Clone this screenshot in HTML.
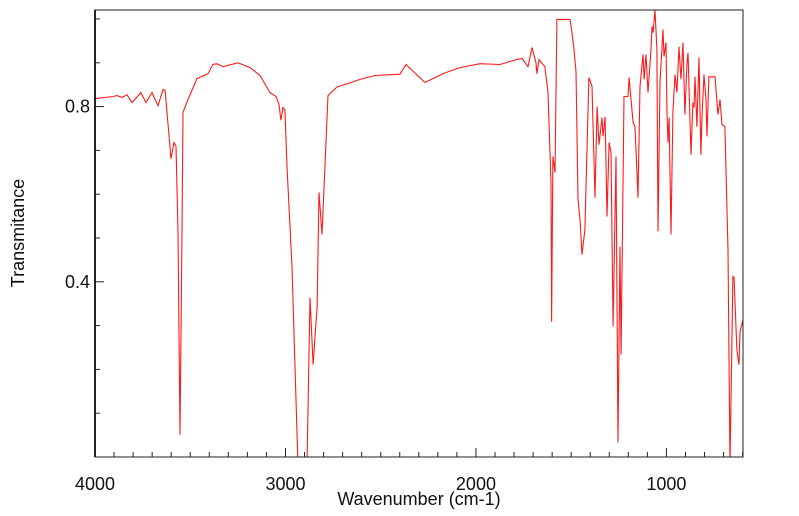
<!DOCTYPE html>
<html><head><meta charset="utf-8"><style>
body{margin:0;background:#fff;}
svg{display:block;font-family:"Liberation Sans",sans-serif;}
</style></head><body>
<svg id="chart" width="799" height="516"></svg>
<script>
const wavenumbers=[4000,3906,3885,3858,3832,3806,3759,3732,3701,3669,3643,3632,3601,3585,3575,3564,3554,3543,3538,3512,3465,3407,3381,3360,3328,3249,3186,3134,3081,3050,3034,3024,3013,3003,2992,2966,2950,2934,2887,2871,2855,2834,2824,2808,2777,2729,2661,2609,2530,2399,2367,2268,2163,2084,1979,1874,1806,1758,1727,1706,1685,1680,1669,1638,1622,1606,1603,1596,1585,1575,1506,1496,1485,1475,1464,1454,1443,1428,1407,1391,1375,1364,1354,1338,1333,1322,1312,1301,1291,1280,1265,1254,1244,1238,1223,1202,1196,1175,1165,1149,1139,1123,1117,1107,1097,1081,1076,1070,1060,1050,1044,1034,1018,1013,1002,997,992,986,976,966,955,945,934,924,913,903,892,887,871,861,855,850,840,829,819,813,803,792,787,777,745,729,719,708,693,677,666,651,645,630,619,614,598];
const transmittance=[0.818,0.823,0.825,0.821,0.827,0.809,0.832,0.809,0.832,0.802,0.839,0.837,0.681,0.718,0.709,0.513,0.051,0.513,0.787,0.816,0.864,0.875,0.896,0.898,0.891,0.900,0.889,0.871,0.832,0.823,0.805,0.769,0.798,0.793,0.663,0.435,0.206,-0.02,-0.02,0.364,0.211,0.343,0.604,0.508,0.825,0.845,0.854,0.862,0.871,0.874,0.896,0.855,0.877,0.889,0.898,0.896,0.905,0.910,0.891,0.935,0.900,0.875,0.907,0.891,0.832,0.626,0.309,0.686,0.649,0.999,0.999,0.969,0.930,0.880,0.588,0.542,0.462,0.519,0.866,0.846,0.592,0.800,0.713,0.775,0.732,0.777,0.549,0.718,0.695,0.298,0.686,0.033,0.480,0.234,0.823,0.823,0.866,0.763,0.754,0.592,0.846,0.919,0.862,0.919,0.832,0.930,0.983,0.969,1.021,0.930,0.515,0.855,0.976,0.914,0.946,0.786,0.718,0.775,0.508,0.786,0.873,0.832,0.937,0.862,0.946,0.782,0.900,0.923,0.690,0.809,0.798,0.868,0.754,0.912,0.690,0.777,0.873,0.816,0.732,0.868,0.868,0.782,0.816,0.759,0.754,0.473,-0.02,0.412,0.410,0.245,0.211,0.286,0.313];
const xTickValues=[4000,3000,2000,1000];
const yTickValues=[0.4,0.8];
const NS="http://www.w3.org/2000/svg";
const svg=document.getElementById('chart');
const L=95,R=743,T=10,B=457,W0=4000,W1=598,V0=0,V1=1.0205;
const xs=w=>L+(W0-w)/(W0-W1)*(R-L);
const ys=v=>B-(v-V0)/(V1-V0)*(B-T);
function mk(tag,attrs){const e=document.createElementNS(NS,tag);for(const k in attrs)e.setAttribute(k,attrs[k]);svg.appendChild(e);return e;}
const defs=mk('defs',{});
const cp=document.createElementNS(NS,'clipPath');cp.setAttribute('id','clip');
const cr=document.createElementNS(NS,'rect');cr.setAttribute('x',L);cr.setAttribute('y',T);cr.setAttribute('width',R-L);cr.setAttribute('height',B-T);
cp.appendChild(cr);defs.appendChild(cp);
let d='';wavenumbers.forEach((w,i)=>{d+=(i?'L':'M')+xs(w).toFixed(1)+','+ys(transmittance[i]).toFixed(1);});
const line=mk('path',{d:d,fill:'none',stroke:'#ff1a1a','stroke-width':1.1,'clip-path':'url(#clip)'});


const frame=mk('rect',{x:L,y:T,width:R-L,height:B-T,fill:'none',stroke:'#222','stroke-width':1});


mk('line',{x1:L,y1:T,x2:L,y2:B,stroke:'#222','stroke-width':2});
for(let w=4000;w>=600;w-=100){const x=xs(w);const major=w%1000===0;
 const t=mk('line',{x1:x,y1:B,x2:x,y2:B-(major?9:5),stroke:'#222','stroke-width':1});
 
 }
for(let k=1;k<=10;k++){const v=k/10;const y=ys(v);const major=(k===4||k===8);
 const t=mk('line',{x1:L,y1:y,x2:L+(major?9:5),y2:y,stroke:'#222','stroke-width':1});
 
 }
xTickValues.forEach(w=>{const t=mk('text',{x:xs(w),y:490,'text-anchor':'middle','font-size':18,fill:'#111'});t.textContent=w;
 
 });
yTickValues.forEach(v=>{const t=mk('text',{x:90,y:ys(v)+6,'text-anchor':'end','font-size':18,fill:'#111'});t.textContent=v.toFixed(1);
 
 });
const xt=mk('text',{x:419,y:505,'text-anchor':'middle','font-size':18,fill:'#111'});xt.textContent='Wavenumber (cm-1)';


const yt=mk('text',{x:0,y:0,'text-anchor':'middle','font-size':18,fill:'#111',transform:'translate(24,233) rotate(-90)'});yt.textContent='Transmitance';


</script>
</body></html>
